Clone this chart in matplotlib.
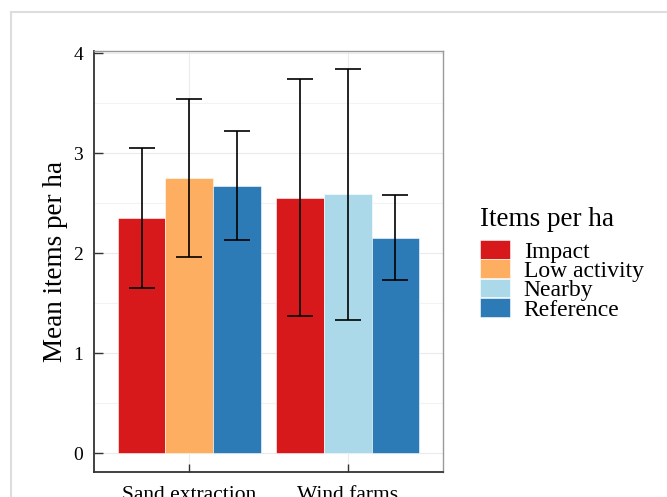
"""Mean litter items per ha by activity type and site category."""

import matplotlib

matplotlib.use("Agg")
import matplotlib.pyplot as plt
from matplotlib.lines import Line2D
import numpy as np

activities = ["Sand extraction", "Wind farms"]
site_types = ["Impact", "Low activity", "Nearby", "Reference"]
colours = {
    "Impact": "#d7191c",
    "Low activity": "#fdae61",
    "Nearby": "#abd9e9",
    "Reference": "#2c7bb6",
}

# per activity: which site types appear, their means and error bar limits
groups = {
    "Sand extraction": ["Impact", "Low activity", "Reference"],
    "Wind farms": ["Impact", "Nearby", "Reference"],
}
means = {
    "Sand extraction": [2.35, 2.75, 2.67],
    "Wind farms": [2.55, 2.59, 2.15],
}
lower = {
    "Sand extraction": [1.65, 1.96, 2.13],
    "Wind farms": [1.37, 1.33, 1.73],
}
upper = {
    "Sand extraction": [3.05, 3.54, 3.22],
    "Wind farms": [3.74, 3.84, 2.58],
}

plt.rcParams["font.family"] = ["Liberation Serif", "DejaVu Serif"]

fig = plt.figure(figsize=(6.67, 4.97), dpi=100)
ax = fig.add_axes([0.141, 0.0503, 0.523, 0.8467])

bar_width = 0.3
for i, activity in enumerate(activities):
    n = len(groups[activity])
    offsets = (np.arange(n) - (n - 1) / 2) * bar_width
    for j, site in enumerate(groups[activity]):
        x = i + offsets[j]
        m = means[activity][j]
        ax.bar(x, m, width=bar_width, color=colours[site], edgecolor="white",
               linewidth=0.4, zorder=2)
        ax.errorbar(x, m, yerr=[[m - lower[activity][j]], [upper[activity][j] - m]],
                    fmt="none", ecolor="black", elinewidth=1.2, capsize=9.4,
                    capthick=1.2, zorder=3)

ax.set_xlim(-0.6, 1.6)
ax.set_ylim(-0.19, 4.02)
ax.set_xticks(range(len(activities)))
ax.set_xticklabels(activities, fontsize=15.5)
ax.set_yticks([0, 1, 2, 3, 4])
ax.set_yticks([0.5, 1.5, 2.5, 3.5], minor=True)
ax.tick_params(axis="y", which="major", direction="in", length=6.5, width=1,
               color="#333333", labelsize=14, pad=8)
ax.tick_params(axis="y", which="minor", length=0)
ax.tick_params(axis="x", direction="in", length=6, width=1, color="#333333", pad=10)
ax.set_ylabel("Mean items per ha", fontsize=19.5, labelpad=3.5)

ax.grid(True, which="major", color="#ebebeb", linewidth=0.8, zorder=0)
ax.grid(True, which="minor", axis="y", color="#f3f3f3", linewidth=0.8, zorder=0)
ax.set_axisbelow(True)

for side in ("left", "bottom"):
    ax.spines[side].set_color("#333333")
    ax.spines[side].set_linewidth(1.3)
for side in ("top", "right"):
    ax.spines[side].set_color("#999999")
    ax.spines[side].set_linewidth(1.0)

handles = [plt.Rectangle((0, 0), 1, 1, facecolor=colours[s], edgecolor="white",
                         linewidth=0.4) for s in site_types]
leg = fig.legend(handles, site_types, title="Items per ha", loc="upper left",
                 bbox_to_anchor=(0.719, 0.584), frameon=False, fontsize=17,
                 title_fontsize=19.5, handlelength=1.27, handleheight=0.83,
                 handletextpad=0.6, labelspacing=-0.13, borderpad=0,
                 borderaxespad=0)
leg._legend_box.align = "left"
# keep the key rows packed tight but leave a gap under the title
leg._legend_box.sep = 6

# light frame of the surrounding figure panel
fig.add_artist(Line2D([11 / 667, 1], [1 - 12 / 497, 1 - 12 / 497],
                      color="#dddddd", linewidth=1.5))
fig.add_artist(Line2D([11 / 667, 11 / 667], [0, 1 - 12 / 497],
                      color="#dddddd", linewidth=1.5))

fig.savefig("out.png", dpi=100)
